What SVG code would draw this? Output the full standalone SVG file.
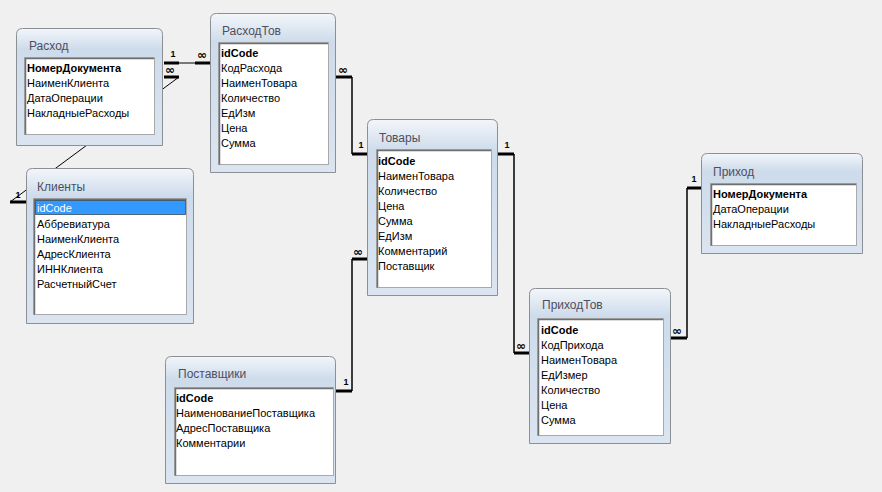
<svg xmlns="http://www.w3.org/2000/svg" width="882" height="492" viewBox="0 0 882 492">
<defs>
<linearGradient id="frame" x1="0" y1="0" x2="0" y2="1">
<stop offset="0" stop-color="#f3f6fa"/>
<stop offset="0.18" stop-color="#cddbeb"/>
<stop offset="1" stop-color="#dbe5f1"/>
</linearGradient>
<style>
.frame{fill:url(#frame);stroke:#8c8f94;stroke-width:1}
.list{fill:#ffffff;stroke:#a9a9a9;stroke-width:1}
.inset{stroke:#6f6f6f;stroke-width:1.5;fill:none}
.title{font-family:"Liberation Sans",Arial,sans-serif;font-size:12px;fill:#4e4e5e}
.f{font-family:"Liberation Sans",Arial,sans-serif;font-size:11px;fill:#000}
.k{font-weight:bold}
.stub{stroke:#000;stroke-width:3;fill:none}
.ln{stroke:#000;stroke-width:1.5;fill:none}
.thin{stroke:#000;stroke-width:1;fill:none}
.one{font-family:"Liberation Sans",Arial,sans-serif;font-size:9px;font-weight:bold;fill:#000;text-anchor:middle}
.many{font-family:"DejaVu Sans",sans-serif;font-size:12px;font-weight:bold;fill:#000;text-anchor:middle}
.sel{fill:#3399ff;stroke:#000;stroke-width:1;stroke-dasharray:1 1}
</style>
</defs>
<rect x="0" y="0" width="882" height="492" fill="#f0f0f0"/>

<g id="connectors">
<!-- Расход - РасходТов -->
<path class="stub" d="M164 63H179"/>
<path class="thin" d="M179 63H195"/>
<path class="stub" d="M195 63H210"/>
<text class="one" x="173" y="57">1</text>
<text class="many" x="202" y="59">∞</text>
<!-- Расход - Клиенты -->
<path class="stub" d="M164 77H179"/>
<path class="thin" d="M179 77L10 202"/>
<path class="stub" d="M10 202H26"/>
<text class="many" x="170" y="74">∞</text>
<text class="one" x="18" y="198">1</text>
<!-- РасходТов - Товары -->
<path class="stub" d="M336 77H352"/>
<path class="ln" d="M352 77V154"/>
<path class="stub" d="M352 154H367"/>
<text class="many" x="343" y="74">∞</text>
<text class="one" x="361" y="148">1</text>
<!-- Поставщики - Товары -->
<path class="stub" d="M336 391H352"/>
<path class="ln" d="M352 391V259"/>
<path class="stub" d="M352 259H367"/>
<text class="one" x="346" y="385">1</text>
<text class="many" x="358" y="256">∞</text>
<!-- Товары - ПриходТов -->
<path class="stub" d="M498 154H514"/>
<path class="ln" d="M514 154V353"/>
<path class="stub" d="M514 353H529"/>
<text class="one" x="507" y="148">1</text>
<text class="many" x="521" y="350">∞</text>
<!-- Приход - ПриходТов -->
<path class="stub" d="M701 188H687"/>
<path class="ln" d="M687 188V338"/>
<path class="stub" d="M687 338H671"/>
<text class="one" x="694" y="182">1</text>
<text class="many" x="677" y="335">∞</text>
</g>

<g id="rashod">
<path class="frame" d="M16.5 145.5V34.5Q16.5 28.5 22.5 28.5H156.5Q162.5 28.5 162.5 34.5V145.5Z"/>
<text class="title" x="29" y="50">Расход</text>
<rect class="list" x="24.5" y="57.5" width="130" height="77"/>
<path class="inset" d="M25.5 134.5V58.5H154"/>
<text class="f k" x="27" y="72">НомерДокумента</text>
<text class="f" x="27" y="87">НаименКлиента</text>
<text class="f" x="27" y="102">ДатаОперации</text>
<text class="f" x="27" y="117">НакладныеРасходы</text>
</g>

<g id="rashodtov">
<path class="frame" d="M210.5 172.5V19.5Q210.5 13.5 216.5 13.5H329.5Q335.5 13.5 335.5 19.5V172.5Z"/>
<text class="title" x="222" y="35">РасходТов</text>
<rect class="list" x="218.5" y="42.5" width="110" height="122"/>
<path class="inset" d="M219.5 164.5V43.5H328"/>
<text class="f k" x="221" y="57">idCode</text>
<text class="f" x="221" y="72">КодРасхода</text>
<text class="f" x="221" y="87">НаименТовара</text>
<text class="f" x="221" y="102">Количество</text>
<text class="f" x="221" y="117">ЕдИзм</text>
<text class="f" x="221" y="132">Цена</text>
<text class="f" x="221" y="147">Сумма</text>
</g>

<g id="klienty">
<path class="frame" d="M26.5 323.5V174.5Q26.5 168.5 32.5 168.5H187.5Q193.5 168.5 193.5 174.5V323.5Z"/>
<text class="title" x="37" y="191">Клиенты</text>
<rect class="list" x="33.5" y="198.5" width="153" height="116"/>
<path class="inset" d="M34.5 314.5V199.5H186"/>
<rect class="sel" x="35.5" y="200.5" width="150" height="14"/>
<text class="f" x="37" y="212" style="fill:#ffffff">idCode</text>
<text class="f" x="37" y="228">Аббревиатура</text>
<text class="f" x="37" y="243">НаименКлиента</text>
<text class="f" x="37" y="258">АдресКлиента</text>
<text class="f" x="37" y="273">ИННКлиента</text>
<text class="f" x="37" y="288">РасчетныйСчет</text>
</g>

<g id="tovary">
<path class="frame" d="M367.5 295.5V125.5Q367.5 119.5 373.5 119.5H491.5Q497.5 119.5 497.5 125.5V295.5Z"/>
<text class="title" x="379" y="142">Товары</text>
<rect class="list" x="376.5" y="149.5" width="115" height="138"/>
<path class="inset" d="M377.5 287.5V150.5H491"/>
<text class="f k" x="378" y="165">idCode</text>
<text class="f" x="378" y="180">НаименТовара</text>
<text class="f" x="378" y="195">Количество</text>
<text class="f" x="378" y="210">Цена</text>
<text class="f" x="378" y="225">Сумма</text>
<text class="f" x="378" y="240">ЕдИзм</text>
<text class="f" x="378" y="255">Комментарий</text>
<text class="f" x="378" y="270">Поставщик</text>
</g>

<g id="prihod">
<path class="frame" d="M701.5 253.5V159.5Q701.5 153.5 707.5 153.5H856.5Q862.5 153.5 862.5 159.5V253.5Z"/>
<text class="title" x="713" y="176">Приход</text>
<rect class="list" x="710.5" y="183.5" width="146" height="62"/>
<path class="inset" d="M711.5 245.5V184.5H856"/>
<text class="f k" x="713" y="198">НомерДокумента</text>
<text class="f" x="713" y="213">ДатаОперации</text>
<text class="f" x="713" y="228">НакладныеРасходы</text>
</g>

<g id="postavshiki">
<path class="frame" d="M165.5 483.5V362.5Q165.5 356.5 171.5 356.5H329.5Q335.5 356.5 335.5 362.5V483.5Z"/>
<text class="title" x="178" y="378">Поставщики</text>
<rect class="list" x="174.5" y="387.5" width="159" height="88"/>
<path class="inset" d="M175.5 475.5V388.5H333"/>
<text class="f k" x="176" y="402">idCode</text>
<text class="f" x="176" y="417">НаименованиеПоставщика</text>
<text class="f" x="176" y="432">АдресПоставщика</text>
<text class="f" x="176" y="447">Комментарии</text>
</g>

<g id="prihodtov">
<path class="frame" d="M529.5 443.5V294.5Q529.5 288.5 535.5 288.5H664.5Q670.5 288.5 670.5 294.5V443.5Z"/>
<text class="title" x="542" y="309">ПриходТов</text>
<rect class="list" x="537.5" y="318.5" width="126" height="117"/>
<path class="inset" d="M538.5 435.5V319.5H663"/>
<text class="f k" x="541" y="334">idCode</text>
<text class="f" x="541" y="349">КодПрихода</text>
<text class="f" x="541" y="364">НаименТовара</text>
<text class="f" x="541" y="379">ЕдИзмер</text>
<text class="f" x="541" y="394">Количество</text>
<text class="f" x="541" y="409">Цена</text>
<text class="f" x="541" y="424">Сумма</text>
</g>
</svg>
